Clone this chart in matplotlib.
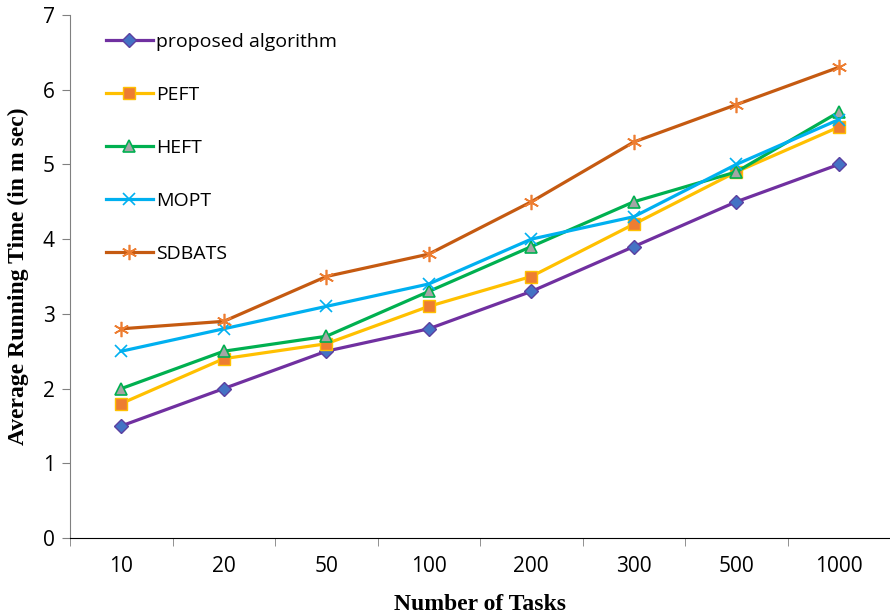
import numpy as np
import matplotlib.pyplot as plt

tasks = ["10", "20", "50", "100", "200", "300", "500", "1000"]
proposed = [1.5, 2.0, 2.5, 2.8, 3.3, 3.9, 4.5, 5.0]
peft = [1.8, 2.4, 2.6, 3.1, 3.5, 4.2, 4.9, 5.5]
heft = [2.0, 2.5, 2.7, 3.3, 3.9, 4.5, 4.9, 5.7]
mopt = [2.5, 2.8, 3.1, 3.4, 4.0, 4.3, 5.0, 5.6]
sdbats = [2.8, 2.9, 3.5, 3.8, 4.5, 5.3, 5.8, 6.3]

fig = plt.figure(figsize=(8.9, 6.15), dpi=100)
ax = fig.add_axes([0.0787, 0.1252, 0.9213, 0.8504])

x = np.arange(len(tasks))
lw = 2.3

ax.plot(x, proposed, color='#7030A0', lw=lw, marker='D', ms=7,
        mfc='#4472C4', mec='#5B3FA0', mew=1, label='proposed algorithm')
ax.plot(x, peft, color='#FFC000', lw=lw, marker='s', ms=8,
        mfc='#ED7D31', mec='#FFC000', mew=1, label='PEFT')
ax.plot(x, heft, color='#00B050', lw=lw, marker='^', ms=9,
        mfc='#A5A5A5', mec='#00B050', mew=1.2, label='HEFT')
ax.plot(x, mopt, color='#00B0F0', lw=lw, marker='x', ms=9,
        mec='#00B0F0', mew=1.2, label='MOPT')
ax.plot(x, sdbats, color='#C55A11', lw=lw, marker=(6, 2, 0), ms=11,
        mec='#ED7D31', mew=1.2, label='SDBATS')

ax.set_xlim(-0.5, len(tasks) - 0.5)
ax.set_ylim(0, 7)
ax.set_yticks(range(0, 8))
ax.set_xticks(x)
ax.set_xticklabels(tasks)
ax.set_xticks(np.arange(-0.5, len(tasks)), minor=True)
ax.tick_params(axis='x', which='major', length=0, pad=13, labelsize=15)
ax.tick_params(axis='x', which='minor', length=6, color='#808080')
ax.tick_params(axis='y', length=6, labelsize=15, color='#808080', pad=5)

for side in ('top', 'right'):
    ax.spines[side].set_visible(False)
ax.spines['left'].set_color('#808080')
ax.spines['bottom'].set_color('black')

for lab in ax.get_xticklabels() + ax.get_yticklabels():
    lab.set_family('Open Sans')

ax.set_xlabel('Number of Tasks', family='Liberation Serif', weight='bold',
              fontsize=17, labelpad=12)
ax.set_ylabel('Average Running Time (in m sec)', family='Liberation Serif',
              weight='bold', fontsize=17, labelpad=10)

leg = ax.legend(loc='upper left', bbox_to_anchor=(0.022, 1.0), frameon=False,
                labelspacing=1.8, handlelength=2.45, handletextpad=0.15,
                prop={'family': 'Open Sans', 'size': 14})

fig.savefig('out.png', dpi=100)
